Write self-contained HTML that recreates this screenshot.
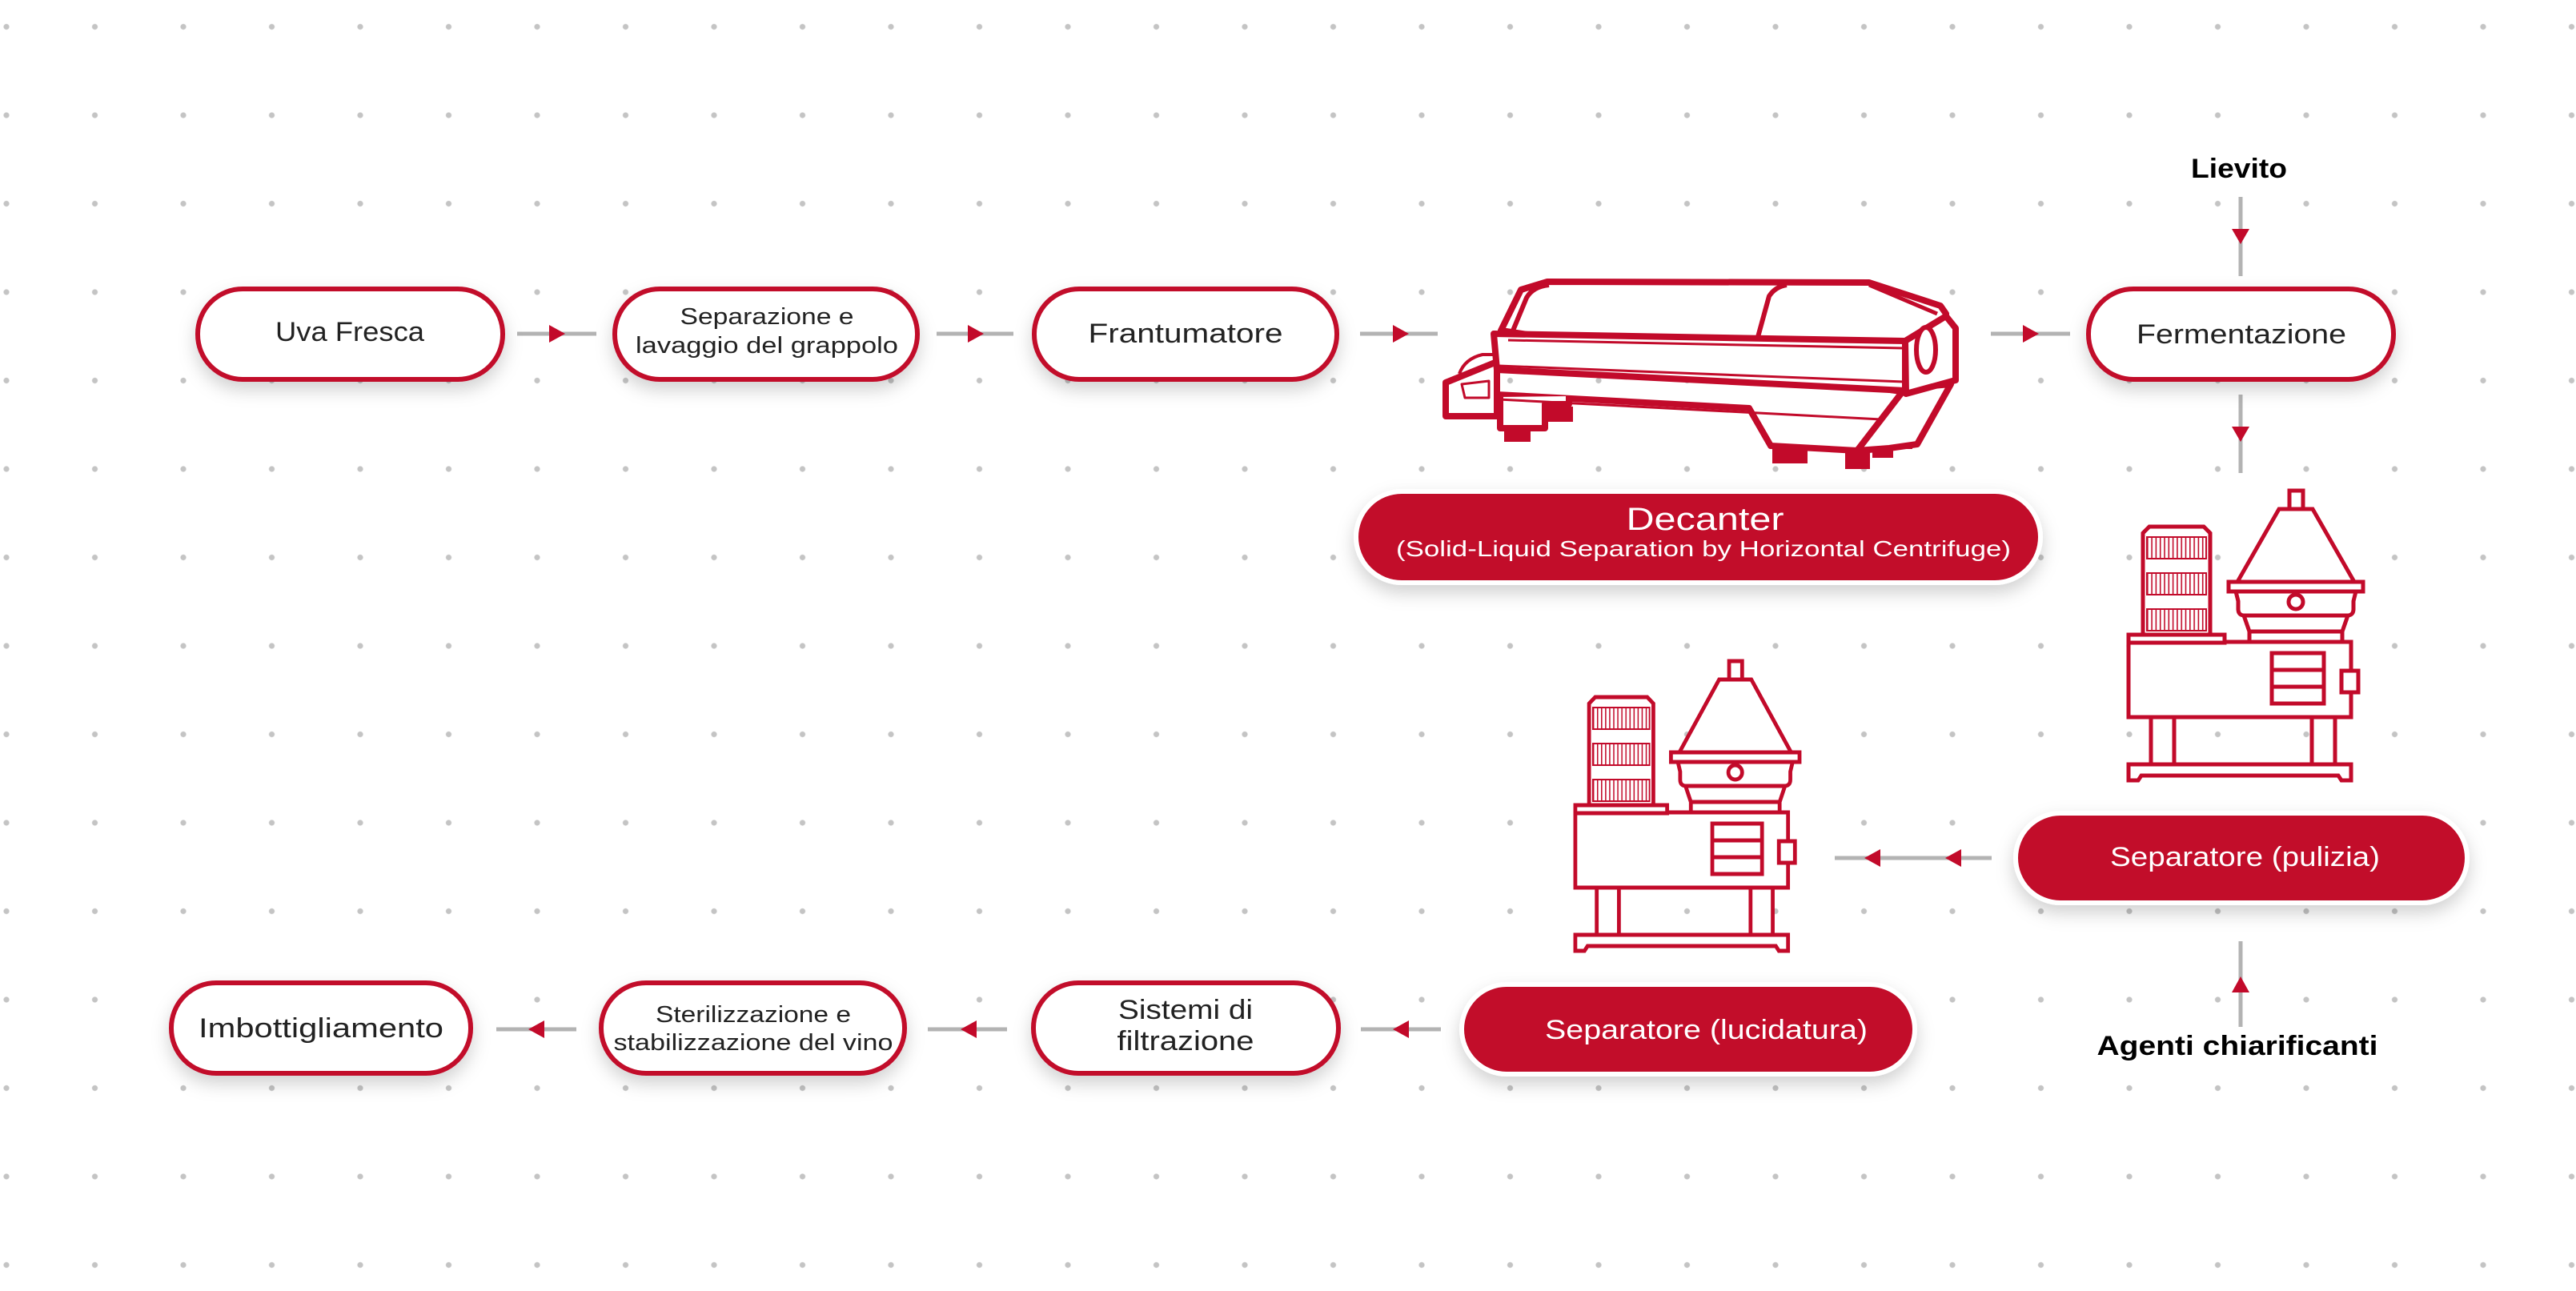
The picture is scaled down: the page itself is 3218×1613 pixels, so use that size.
<!DOCTYPE html>
<html><head><meta charset="utf-8"><style>
html,body{margin:0;padding:0;background:#fff}
svg{display:block}
text{font-family:"Liberation Sans",sans-serif}
</style></head><body>
<svg width="3218" height="1613" viewBox="0 0 3218 1613" xmlns="http://www.w3.org/2000/svg">
<defs>
<pattern id="dots" patternUnits="userSpaceOnUse" x="-47.25" y="-21.75" width="110.5" height="110.5">
<circle cx="55.25" cy="55.25" r="3.6" fill="#c4c4c4"/>
</pattern>
<pattern id="rib" patternUnits="userSpaceOnUse" x="25" y="0" width="5.3" height="10">
<rect x="0" y="0" width="1.6" height="10" fill="#c20a2a"/>
</pattern>
<filter id="sh" x="-20%" y="-30%" width="140%" height="180%">
<feDropShadow dx="0" dy="10" stdDeviation="11" flood-color="#000" flood-opacity="0.18"/>
</filter>
<g id="sep" fill="#fff" stroke="#c20a2a" stroke-width="5" stroke-linejoin="miter">
<path d="M2,344 H280 V364 H268 L264,358 H18 L14,364 H2 Z"/>
<rect x="30" y="285" width="29" height="59"/>
<rect x="231" y="285" width="29" height="59"/>
<rect x="2" y="191" width="278" height="94"/>
<rect x="181" y="205" width="65" height="63"/>
<line x1="181" y1="226" x2="246" y2="226"/>
<line x1="181" y1="247" x2="246" y2="247"/>
<rect x="268" y="227" width="21" height="27"/>
<rect x="2" y="182" width="120" height="10"/>
<path d="M20,182 V55 L28,47 H96 L104,55 V182 Z"/>
<rect x="25" y="60" width="74" height="27" fill="url(#rib)" stroke-width="2"/>
<rect x="25" y="105" width="74" height="27" fill="url(#rib)" stroke-width="2"/>
<rect x="25" y="150" width="74" height="27" fill="url(#rib)" stroke-width="2"/>
<path d="M146,158 L153,178 V191 H269 V178 L276,158 Z"/>
<line x1="153" y1="178" x2="269" y2="178"/>
<path d="M136,128 L139,140 V150 Q139,158 147,158 H275 Q283,158 283,150 V140 L286,128 Z"/>
<circle cx="211" cy="141" r="9"/>
<rect x="127" y="116" width="168" height="12"/>
<path d="M138,116 L190,25 H232 L284,116 Z"/>
<rect x="203" y="2" width="17" height="23"/>
</g>
</defs>
<rect width="3218" height="1613" fill="#fff"/>
<rect width="3218" height="1613" fill="url(#dots)"/>

<g stroke="#b3b3b3" stroke-width="5">
<line x1="646" y1="417" x2="745" y2="417"/>
<line x1="1170" y1="417" x2="1266" y2="417"/>
<line x1="1699" y1="417" x2="1796" y2="417"/>
<line x1="2487" y1="417" x2="2586" y2="417"/>
<line x1="2799" y1="246" x2="2799" y2="345"/>
<line x1="2799" y1="493" x2="2799" y2="591"/>
<line x1="2799" y1="1176" x2="2799" y2="1283"/>
<line x1="2292" y1="1072" x2="2488" y2="1072"/>
<line x1="620" y1="1286" x2="720" y2="1286"/>
<line x1="1159" y1="1286" x2="1258" y2="1286"/>
<line x1="1700" y1="1286" x2="1800" y2="1286"/>
</g>
<g fill="#c20a2a">
<path d="M686,406 L706,417 L686,428 Z"/>
<path d="M1209,406 L1229,417 L1209,428 Z"/>
<path d="M1740,406 L1760,417 L1740,428 Z"/>
<path d="M2527,406 L2547,417 L2527,428 Z"/>
<path d="M2788,286 L2810,286 L2799,305 Z"/>
<path d="M2788,533 L2810,533 L2799,552 Z"/>
<path d="M2788,1240 L2810,1240 L2799,1220 Z"/>
<path d="M2349,1061 L2349,1083 L2329,1072 Z"/>
<path d="M2450,1061 L2450,1083 L2430,1072 Z"/>
<path d="M680,1275 L680,1297 L660,1286 Z"/>
<path d="M1220,1275 L1220,1297 L1200,1286 Z"/>
<path d="M1760,1275 L1760,1297 L1740,1286 Z"/>
</g>

<g fill="#fff" stroke="#c20a2a" stroke-width="6" filter="url(#sh)">
<rect x="247" y="361" width="381" height="113" rx="56"/>
<rect x="768" y="361" width="378" height="113" rx="56"/>
<rect x="1292" y="361" width="378" height="113" rx="56"/>
<rect x="2609" y="361" width="381" height="113" rx="56"/>
<rect x="214" y="1228" width="374" height="113" rx="56"/>
<rect x="751" y="1228" width="379" height="113" rx="56"/>
<rect x="1291" y="1228" width="381" height="113" rx="56"/>
</g>
<g fill="#c20a2a" stroke="#fff" stroke-width="6" filter="url(#sh)">
<rect x="1694" y="614" width="855" height="114" rx="57"/>
<rect x="2518" y="1016" width="564" height="112" rx="56"/>
<rect x="1826" y="1230" width="566" height="112" rx="56"/>
</g>

<g fill="#222" font-size="34" text-anchor="middle">
<text x="437" y="426" textLength="186" lengthAdjust="spacingAndGlyphs">Uva Fresca</text>
<text x="958" y="405" font-size="29" textLength="217" lengthAdjust="spacingAndGlyphs">Separazione e</text>
<text x="958" y="441" font-size="29" textLength="328" lengthAdjust="spacingAndGlyphs">lavaggio del grappolo</text>
<text x="1481" y="428" textLength="243" lengthAdjust="spacingAndGlyphs">Frantumatore</text>
<text x="2800" y="429" textLength="262" lengthAdjust="spacingAndGlyphs">Fermentazione</text>
<text x="401" y="1296" textLength="306" lengthAdjust="spacingAndGlyphs">Imbottigliamento</text>
<text x="941" y="1277" font-size="29" textLength="244" lengthAdjust="spacingAndGlyphs">Sterilizzazione e</text>
<text x="941" y="1312" font-size="29" textLength="349" lengthAdjust="spacingAndGlyphs">stabilizzazione del vino</text>
<text x="1481" y="1273" textLength="168" lengthAdjust="spacingAndGlyphs">Sistemi di</text>
<text x="1481" y="1312" textLength="171" lengthAdjust="spacingAndGlyphs">filtrazione</text>
</g>
<g fill="#fff" font-size="34">
<text x="2636" y="1082" textLength="337" lengthAdjust="spacingAndGlyphs">Separatore (pulizia)</text>
<text x="1930" y="1298" textLength="403" lengthAdjust="spacingAndGlyphs">Separatore (lucidatura)</text>
<text x="2130" y="662" font-size="40" text-anchor="middle" textLength="197" lengthAdjust="spacingAndGlyphs">Decanter</text>
<text x="2128" y="695" font-size="28" text-anchor="middle" textLength="768" lengthAdjust="spacingAndGlyphs">(Solid-Liquid Separation by Horizontal Centrifuge)</text>
</g>
<g fill="#000" font-weight="bold" font-size="34" text-anchor="middle">
<text x="2797" y="222" textLength="120" lengthAdjust="spacingAndGlyphs">Lievito</text>
<text x="2795" y="1318" textLength="351" lengthAdjust="spacingAndGlyphs">Agenti chiarificanti</text>
</g>

<use href="#sep" transform="translate(2657,611)"/>
<use href="#sep" transform="translate(1966,824) scale(0.956,1)"/>

<g fill="#fff" stroke="#c20a2a" stroke-width="8" stroke-linejoin="round">
<g fill="#c20a2a" stroke="none">
<rect x="1879" y="530" width="33" height="22"/>
<rect x="1929" y="508" width="36" height="19"/>
<rect x="2214" y="555" width="44" height="24"/>
<rect x="2305" y="561" width="31" height="25"/>
<rect x="2339" y="551" width="26" height="21"/>
<rect x="2368" y="545" width="21" height="16"/>
</g>
<path d="M1870,493 L2185,510 L2212,557 L2320,563 L2380,485 L2437,480 L2395,555 L2360,560 L2320,563"/>
<path d="M1874,496 V535 H1930 V505 H1960 V495"/>
<path d="M1806,478 L1870,452 V520 H1806 Z"/>
<path d="M1826,480 L1860,476 V497 H1830 Z" stroke-width="3"/>
<path d="M1823,467 Q1830,448 1852,443 H1870" stroke-width="4"/>
<path d="M1875,413 L1900,362 L1933,352 L2335,353 L2424,382 L2431,392 V475 L2381,490 Z"/>
<path d="M1866,417 L2380,426 L2380,488 L1870,462 Z"/>
<path d="M1890,413 L1907,372 Q1915,358 1935,356" stroke-width="6"/>
<path d="M2196,421 L2210,370 Q2218,358 2232,356" stroke-width="6"/>
<path d="M2335,356 L2420,392" stroke-width="5"/>
<line x1="1884" y1="425" x2="2378" y2="435" stroke-width="3"/>
<line x1="1872" y1="457" x2="2378" y2="477" stroke-width="3"/>
<line x1="1872" y1="499" x2="2350" y2="524" stroke-width="3"/>
<path d="M2380,426 L2431,395 L2443,410 V475 L2381,492 Z"/>
<ellipse cx="2406" cy="437" rx="12" ry="28" stroke-width="6"/>
</g>
</svg>
</body></html>
